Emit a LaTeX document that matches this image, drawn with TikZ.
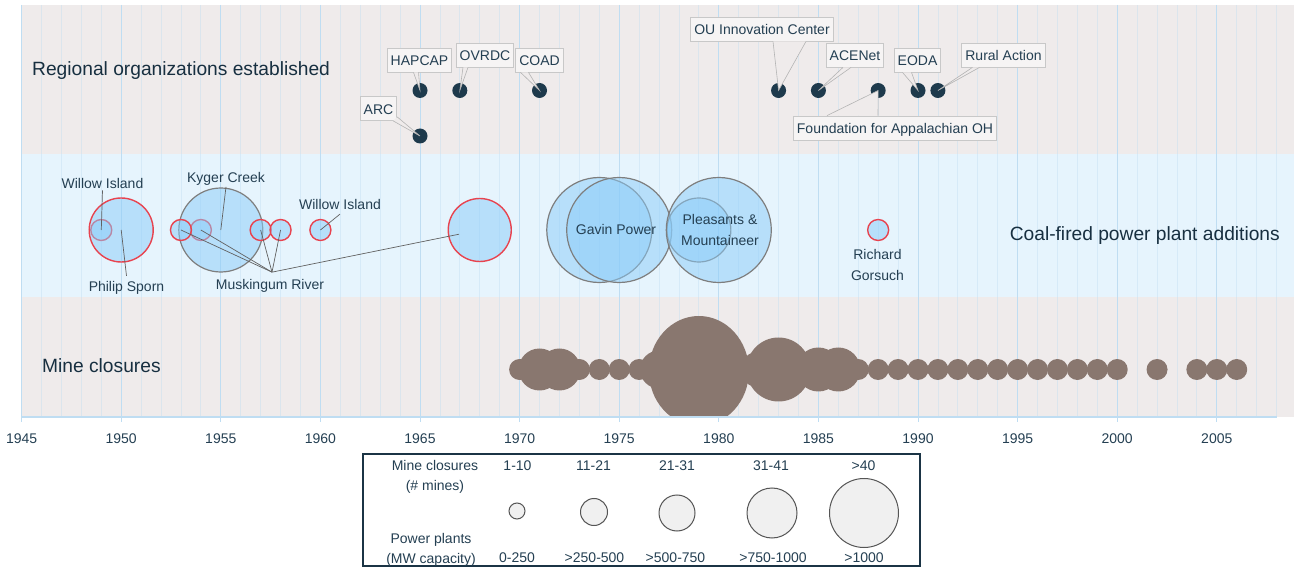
\documentclass[tikz,border=0pt]{standalone}
\usepackage{fontspec}
\setmainfont{Liberation Sans}
\usetikzlibrary{calc,shapes.geometric}
\definecolor{bandgray}{HTML}{EFEBEB}
\definecolor{bandblue}{HTML}{E6F4FD}
\definecolor{gridc}{HTML}{BFDDF2}
\definecolor{navy}{HTML}{1E3A4C}
\definecolor{txt}{HTML}{172F40}
\definecolor{lbl}{HTML}{243F52}
\definecolor{plantfill}{HTML}{8ACCF9}
\definecolor{plantred}{HTML}{E8434F}
\definecolor{plantgray}{HTML}{7E7E7E}
\definecolor{mine}{HTML}{89776F}
\definecolor{boxfill}{HTML}{F6F4F4}
\definecolor{boxline}{HTML}{C8C8C8}
\definecolor{callline}{HTML}{B4B4B4}
\definecolor{legline}{HTML}{1B3445}
\definecolor{legcirc}{HTML}{F0F0F0}
\definecolor{legdraw}{HTML}{555555}
\newcommand{\yrx}[1]{(21.6+(#1-1945)*19.92)}
\newcommand{\wedgecall}[3]{%
  \path[callfill] (#1) -- (#2.center) -- (#3) -- cycle;
  \draw[callstroke] (#1) -- (#2.center) -- (#3);}
\begin{document}
\begin{tikzpicture}[x=1pt,y=-1pt,
 sectitle/.style={font=\fontsize{19.2}{22}\selectfont, text=txt, inner sep=0pt},
 lab/.style={font=\fontsize{14}{20.5}\selectfont, text=lbl, inner sep=1.5pt, align=center},
 orgbox/.style={draw=boxline, fill=boxfill, line width=0.8pt, font=\fontsize{14}{17}\selectfont, text=lbl, inner xsep=3.5pt, inner ysep=6pt, text height=12pt, text depth=0pt},
 orgdot/.style={circle, fill=navy, minimum size=15pt, inner sep=0pt},
 callfill/.style={fill=bandgray},
 callstroke/.style={draw=callline, line width=0.6pt},
 plant/.style={circle, inner sep=0pt, fill=plantfill, fill opacity=0.5, line width=1.4pt},
 pred/.style={plant, draw=plantred},
 pgray/.style={plant, draw=plantgray, line width=1.2pt},
 leader/.style={draw=black!62, line width=0.7pt},
 minec/.style={circle, fill=mine, inner sep=0pt},
 gridminor/.style={draw=gridc, opacity=0.4, line width=0.8pt},
 gridmajor/.style={draw=gridc, line width=0.9pt},
 yearlab/.style={font=\fontsize{14}{16}\selectfont, text=lbl, inner sep=0pt},
 legtxt/.style={font=\fontsize{14}{20}\selectfont, text=lbl, inner sep=0pt, align=center},
 legc/.style={circle, fill=legcirc, draw=legdraw, line width=1pt, inner sep=0pt},
]
\useasboundingbox (0,0) rectangle (1294,569);
% bands
\fill[bandgray] (21.6,5) rectangle (1294,154);
\fill[bandblue] (21.6,154) rectangle (1294,297);
\fill[bandgray] (21.6,297) rectangle (1294,417);
% grid
\foreach \yy in {1945,...,2008}
  \draw[gridminor] ({\yrx{\yy}},5) -- ({\yrx{\yy}},417);
\foreach \yy in {1945,1950,...,2005}
  \draw[gridmajor] ({\yrx{\yy}},5) -- ({\yrx{\yy}},417);
% section titles
\node[sectitle, anchor=base west] (torg) at (32,76) {Regional organizations established};
\node[sectitle, anchor=base east] (tcoal) at (1280,241) {Coal-fired power plant additions};
\node[sectitle, anchor=base west] (tmine) at (42,372.5) {Mine closures};
% organisation dots
\node[orgdot] (d65) at ({\yrx{1965}},90.5) {};
\node[orgdot] (d65b) at ({\yrx{1965}},136) {};
\node[orgdot] (d67) at ({\yrx{1967}},90.5) {};
\node[orgdot] (d71) at ({\yrx{1971}},90.5) {};
\node[orgdot] (d83) at ({\yrx{1983}},90.5) {};
\node[orgdot] (d85) at ({\yrx{1985}},90.5) {};
\node[orgdot] (d88) at ({\yrx{1988}},90.5) {};
\node[orgdot] (d90) at ({\yrx{1990}},90.5) {};
\node[orgdot] (d91) at ({\yrx{1991}},90.5) {};
% organisation boxes
\node[orgbox] (bhap) at (419.5,60) {HAPCAP};
\node[orgbox] (bovr) at (485,55) {OVRDC};
\node[orgbox] (bcoad) at (539.5,60) {COAD};
\node[orgbox] (barc) at (378.5,108.5) {ARC};
\node[orgbox] (bou) at (762,29) {OU Innovation Center};
\node[orgbox] (bace) at (855,55) {ACENet};
\node[orgbox] (beoda) at (917.5,60) {EODA};
\node[orgbox] (brur) at (1003.5,55) {Rural Action};
\node[orgbox] (bfou) at (895,128) {Foundation for Appalachian OH};
% callout wedges
\wedgecall{$(bhap.south)+(-6,0)$}{d65}{$(bhap.south)+(-1,0)$}
\wedgecall{$(bovr.south)+(-22,0)$}{d67}{$(bovr.south)+(-17,0)$}
\wedgecall{$(bcoad.south)+(-19,0)$}{d71}{$(bcoad.south)+(-11,0)$}
\wedgecall{$(barc.south east)+(-4,0)$}{d65b}{$(barc.south east)+(0,-4)$}
\wedgecall{$(bou.south)+(11,0)$}{d83}{$(bou.south)+(44,0)$}
\wedgecall{$(bace.south)+(-12,0)$}{d85}{$(bace.south)+(-4,0)$}
\wedgecall{$(bfou.north)+(-68,0)$}{d88}{$(bfou.north)+(-17,0)$}
\wedgecall{$(beoda.south)+(-15,0)$}{d90}{$(beoda.south)+(-6,0)$}
\wedgecall{$(brur.south west)+(11,0)$}{d91}{$(brur.south west)+(18,0)$}
% power plants
\node[pred, minimum size=21pt] (wi49) at ({\yrx{1949}},230) {};
\node[pred, minimum size=64pt] (ps50) at ({\yrx{1950}},230) {};
\node[pred, minimum size=21pt] (mr54) at ({\yrx{1954}},230) {};
\node[pgray, minimum size=84pt] (kc55) at ({\yrx{1955}},230) {};
\node[pred, minimum size=21pt] (mr53) at ({\yrx{1953}},230) {};
\node[pred, minimum size=21pt] (mr57) at ({\yrx{1957}},230) {};
\node[pred, minimum size=21pt] (mr58) at ({\yrx{1958}},230) {};
\node[pred, minimum size=21pt] (wi60) at ({\yrx{1960}},230) {};
\node[pred, minimum size=63pt] (mr68) at ({\yrx{1968}},230) {};
\node[pgray, minimum size=105pt] (gv74) at ({\yrx{1974}},230) {};
\node[pgray, minimum size=105pt] (gv75) at ({\yrx{1975}},230) {};
\node[pgray, minimum size=64pt] (pm79) at ({\yrx{1979}},230) {};
\node[pgray, minimum size=105pt] (pm80) at ({\yrx{1980}},230) {};
\node[pred, minimum size=21pt] (rg88) at ({\yrx{1988}},230) {};
% plant labels and leaders
\node[lab, anchor=base] (wi49l) at (102.5,188.5) {Willow Island};
\draw[leader] (wi49l.south) -- (wi49.center);
\node[lab, anchor=base] (ps50l) at (126.5,291.7) {Philip Sporn};
\draw[leader] (ps50.center) -- ([yshift=4pt]ps50l.north);
\node[lab, anchor=base] (kc55l) at (226,182.3) {Kyger Creek};
\draw[leader] (kc55l.south) -- (kc55.center);
\node[lab, anchor=base] (wi60l) at (340,209.3) {Willow Island};
\draw[leader] ([yshift=-3pt]wi60l.south) -- (wi60.center);
\node[lab, anchor=base] (mrl) at (270,290) {Muskingum River};
\coordinate (hub) at ([xshift=2pt,yshift=6pt]mrl.north);
\draw[leader] (hub) -- (mr53.center);
\draw[leader] (hub) -- (mr54.center);
\draw[leader] (hub) -- (mr57.center);
\draw[leader] (hub) -- (mr58.center);
\draw[leader] (hub) -- ($(hub)!0.9!(mr68.center)$);
\node[lab, anchor=base] (gvl) at (616,234.3) {Gavin Power};
\node[lab] (pml) at (720,230) {Pleasants \&\\Mountaineer};
\node[lab] (rgl) at (877.5,265) {Richard\\Gorsuch};
% mine closures
\foreach \yy/\dd in {1970/21,1971/42,1972/42,1973/21,1974/21,1975/21,1976/21,1977/38,
  1982/36,1983/64,1985/44,1986/44,1987/21,1988/21,1989/21,1990/21,1991/21,1992/21,
  1993/21,1994/21,1995/21,1996/21,1997/21,1998/21,1999/21,2000/21,2002/21,2004/21,
  2005/21,2006/21}
  \node[minec, minimum size={\dd pt}] (mc\yy) at ({\yrx{\yy}},369.5) {};
\begin{scope}
  \clip (21.6,297) rectangle (1294,417);
  \node[minec, ellipse, minimum width=100pt, minimum height=110pt] (mc1979) at ({\yrx{1979}},371) {};
\end{scope}
% axis
\foreach \yy in {1945,1950,...,2005}
  \draw[gridmajor] ({\yrx{\yy}},417) -- ({\yrx{\yy}},422);
\draw[gridmajor, line width=1.2pt] (21.6,417) -- ({\yrx{2008}},417);
\foreach \yy in {1945,1950,...,2005}
  \node[yearlab, anchor=base] (yl\yy) at ({\yrx{\yy}},443) {\yy};
% legend
\node[draw=legline, fill=white, line width=2pt, minimum width=557pt, minimum height=112pt, inner sep=0pt] (legbox) at (641.5,510) {};
\node[legtxt] (lgm) at (435,477) {Mine closures\\(\# mines)};
\node[legtxt] (lgp) at (431,550) {Power plants\\(MW capacity)};
\node[legtxt] (lt1) at (517.5,466) {1-10};
\node[legtxt] (lt2) at (593.5,466) {11-21};
\node[legtxt] (lt3) at (677,466) {21-31};
\node[legtxt] (lt4) at (771,466) {31-41};
\node[legtxt] (lt5) at (863.5,466) {>40};
\node[legc, minimum size=16pt] (lc1) at (517,511) {};
\node[legc, minimum size=27pt] (lc2) at (594,512) {};
\node[legc, minimum size=36pt] (lc3) at (677,513) {};
\node[legc, minimum size=50pt] (lc4) at (772,513) {};
\node[legc, minimum size=69pt] (lc5) at (864,513) {};
\node[legtxt] (lb1) at (517,558) {0-250};
\node[legtxt] (lb2) at (594.5,558) {>250-500};
\node[legtxt] (lb3) at (675.5,558) {>500-750};
\node[legtxt] (lb4) at (773,558) {>750-1000};
\node[legtxt] (lb5) at (864,558) {>1000};
\end{tikzpicture}
\end{document}
